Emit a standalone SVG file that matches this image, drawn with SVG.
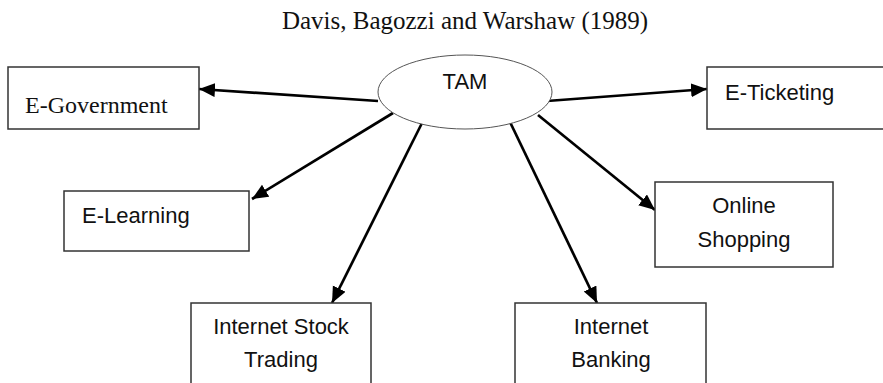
<svg xmlns="http://www.w3.org/2000/svg" width="883" height="383" viewBox="0 0 883 383">
<style>
.box{fill:#fff;stroke:#333;stroke-width:1.5}
.sans{font-family:"Liberation Sans",Arial,sans-serif;font-size:22px;fill:#111}
.serif{font-family:"Liberation Serif","Times New Roman",serif;fill:#111}
.conn{stroke:#000;stroke-width:2.7;fill:none;marker-end:url(#ah)}
</style>
<defs>
<marker id="ah" markerUnits="userSpaceOnUse" markerWidth="17" markerHeight="15" refX="16" refY="7" orient="auto">
<path d="M0,0 L16,7 L0,14 z" fill="#000"/>
</marker>
</defs>
<rect width="883" height="383" fill="#fff"/>
<text class="serif" x="465" y="29" font-size="25" text-anchor="middle">Davis, Bagozzi and Warshaw (1989)</text>
<g id="connectors">
<line class="conn" x1="378" y1="101" x2="199" y2="89"/>
<line class="conn" x1="393" y1="113" x2="252" y2="199"/>
<line class="conn" x1="422" y1="123" x2="332" y2="303"/>
<line class="conn" x1="510" y1="122" x2="597" y2="303" stroke-width="2.2"/>
<line class="conn" x1="538" y1="115" x2="655" y2="210"/>
<line class="conn" x1="547" y1="101" x2="707" y2="89"/>
</g>
<g id="tam">
<ellipse cx="465" cy="92" rx="87" ry="37" fill="#fff" stroke="#555" stroke-width="1"/>
<text class="sans" x="465" y="89" text-anchor="middle">TAM</text>
</g>
<g id="egov">
<rect class="box" x="8" y="67" width="191" height="62"/>
<text class="serif" x="25" y="113" font-size="24">E-Government</text>
</g>
<g id="eticketing">
<rect class="box" x="707" y="67" width="180" height="62"/>
<text class="sans" x="725" y="100">E-Ticketing</text>
</g>
<g id="elearning">
<rect class="box" x="64" y="191" width="185" height="60"/>
<text class="sans" x="82" y="223">E-Learning</text>
</g>
<g id="online">
<rect class="box" x="655" y="182" width="178" height="85"/>
<text class="sans" x="744" y="213" text-anchor="middle">Online</text>
<text class="sans" x="744" y="247" text-anchor="middle">Shopping</text>
</g>
<g id="stock">
<rect class="box" x="191" y="303" width="180" height="95"/>
<text class="sans" x="281" y="334" text-anchor="middle">Internet Stock</text>
<text class="sans" x="281" y="367" text-anchor="middle">Trading</text>
</g>
<g id="banking">
<rect class="box" x="515" y="303" width="191" height="95"/>
<text class="sans" x="611" y="334" text-anchor="middle">Internet</text>
<text class="sans" x="611" y="367" text-anchor="middle">Banking</text>
</g>
</svg>
